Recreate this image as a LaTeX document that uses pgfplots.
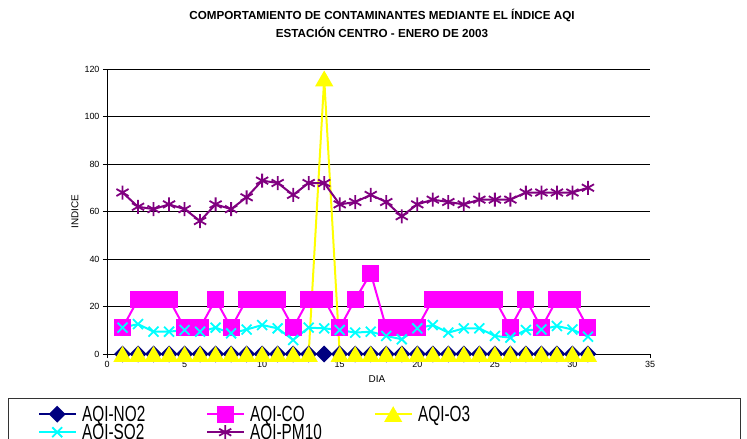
\documentclass[border=0pt]{standalone}
\usepackage{pgfplots}
\pgfplotsset{compat=1.18}
\usepackage{fontspec}
\setmainfont{Liberation Sans}
\newfontfamily\legfont[FakeStretch=0.7]{Liberation Sans}

\definecolor{cNO}{HTML}{000080}
\definecolor{cCO}{HTML}{FF00FF}
\definecolor{cOT}{HTML}{FFFF00}
\definecolor{cSO}{HTML}{00FFFF}
\definecolor{cPM}{HTML}{800080}

\begin{document}
\begin{tikzpicture}
\path[use as bounding box] (0,0) rectangle (747bp,-439bp);
\clip (0,0) rectangle (747bp,-439bp);

\node[font=\bfseries\fontsize{11.7}{18}\selectfont, align=center, anchor=north, inner sep=0]
  at (382bp,-9bp) {COMPORTAMIENTO DE CONTAMINANTES MEDIANTE EL ÍNDICE AQI\\ESTACIÓN CENTRO - ENERO DE 2003};

\begin{axis}[
  at={(107bp,-354bp)}, anchor=south west,
  scale only axis, width=543bp, height=285bp,
  xmin=0, xmax=35, ymin=0, ymax=120,
  xtick={0,5,...,35}, ytick={0,20,...,120},
  axis x line*=bottom, axis y line*=left,
  axis line style={black, line width=0.8bp, -},
  tick align=outside, major tick length=4bp,
  tick style={black, line width=0.8bp},
  ymajorgrids, grid style={black, line width=0.8bp},
  ticklabel style={font=\fontsize{9}{10}\selectfont},
  /pgf/number format/assume math mode=true,
  xlabel={DIA}, ylabel={INDICE},
  label style={font=\bfseries\fontsize{9.5}{10}\selectfont},
  every axis x label/.style={at={(axis description cs:0.497,-0.0877)}, anchor=center},
  every axis y label/.style={at={(axis description cs:-0.0589,0.5)}, rotate=90, anchor=center},
  clip=false,
  every axis plot/.append style={line width=2bp},
  legend columns=3,
  legend image code/.code={\draw[mark repeat=2,mark phase=2,#1] plot coordinates {(0bp,0bp) (18bp,0bp) (37bp,0bp)};},
  legend style={at={(axis description cs:-0.12707,-0.17895)}, anchor=north west,
    draw=none, fill=none, inner sep=0pt, row sep=0pt,
    font=\legfont\fontsize{22}{22}\selectfont,
    nodes={inner sep=0pt, text height=16bp, text depth=2bp, text width=121bp},
    /tikz/every odd column/.append style={column sep=5bp},
    /tikz/every even column/.append style={column sep=3bp}},
]
\addplot[color=cNO, mark=square*, mark size=5bp, mark options={rotate=45, solid}] coordinates {
(1,0) (2,0) (3,0) (4,0) (5,0) (6,0) (7,0) (8,0) (9,0) (10,0) (11,0) (12,0) (13,0) (14,0) (15,0) (16,0)
(17,0) (18,0) (19,0) (20,0) (21,0) (22,0) (23,0) (24,0) (25,0) (26,0) (27,0) (28,0) (29,0) (30,0) (31,0)};
\addlegendentry{AQI-NO2}
\addplot[color=cCO, mark=square*, mark size=7.5bp, mark options={solid}] coordinates {
(1,11) (2,23) (3,23) (4,23) (5,11) (6,11) (7,23) (8,11) (9,23) (10,23) (11,23) (12,11) (13,23) (14,23) (15,11) (16,23)
(17,34) (18,11) (19,11) (20,11) (21,23) (22,23) (23,23) (24,23) (25,23) (26,11) (27,23) (28,11) (29,23) (30,23) (31,11)};
\addlegendentry{AQI-CO}
\addplot[color=cOT, mark=triangle*, mark size=8.5bp, mark options={solid, yshift=-2.5bp}] coordinates {
(1,0) (2,0) (3,0) (4,0) (5,0) (6,0) (7,0) (8,0) (9,0) (10,0) (11,0) (12,0) (13,0) (14,116) (15,0) (16,0)
(17,0) (18,0) (19,0) (20,0) (21,0) (22,0) (23,0) (24,0) (25,0) (26,0) (27,0) (28,0) (29,0) (30,0) (31,0)};
\addlegendentry{AQI-O3}
\addplot[color=cSO, mark=x, mark size=7bp, mark options={solid, line width=1.8bp}] coordinates {
(1,11.1) (2,12.6) (3,9.4) (4,9.4) (5,10.1) (6,9.4) (7,11.1) (8,8.7) (9,10.3) (10,12.2) (11,10.8) (12,5.9) (13,11.1) (14,10.8) (15,10.1) (16,9.0)
(17,9.4) (18,7.6) (19,6.2) (20,10.8) (21,12.2) (22,9.0) (23,10.8) (24,10.8) (25,7.6) (26,6.9) (27,10.1) (28,10.3) (29,11.8) (30,10.3) (31,7.3)};
\addlegendentry{AQI-SO2}
\addplot[color=cPM, mark=asterisk, mark size=7bp, mark options={solid, line width=1.8bp}] coordinates {
(1,68) (2,62) (3,61) (4,63) (5,61) (6,56) (7,63) (8,61) (9,66) (10,73) (11,72) (12,67) (13,72) (14,72) (15,63) (16,64)
(17,67) (18,64) (19,58) (20,63) (21,65) (22,64) (23,63) (24,65) (25,65) (26,65) (27,68) (28,68) (29,68) (30,68) (31,70)};
\addlegendentry{AQI-PM10}
\end{axis}

\draw[line width=0.8bp, black!80] (8bp,-398bp) rectangle (740bp,-470bp);
\end{tikzpicture}
\end{document}
